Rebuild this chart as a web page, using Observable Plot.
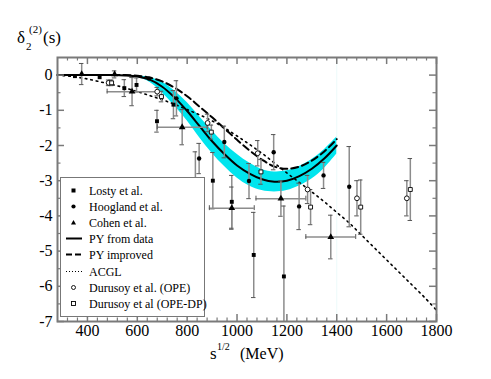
<!DOCTYPE html>
<html><head><meta charset="utf-8">
<script src="https://cdn.jsdelivr.net/npm/d3@7"></script>
<script src="https://cdn.jsdelivr.net/npm/@observablehq/plot@0.6"></script>
<style>
body{margin:0;background:#fff;}
#wrap{position:relative;width:491px;height:379px;font-family:'Liberation Serif','Times New Roman',serif;color:#000;}
.t{position:absolute;line-height:1;white-space:nowrap;}
#legend{position:absolute;left:60px;top:177px;width:143px;height:138px;border:1px solid #777;background:#fff;}
#legend .row{position:absolute;left:0;width:143px;height:16px;}
#legend svg{position:absolute;left:4px;top:0;}
#legend span{position:absolute;left:28px;top:2px;font-size:12px;line-height:1;white-space:nowrap;}
</style></head><body><div id="wrap"></div>
<script>
// ---- curves ----
const curveX = [280, 500, 550, 600, 650, 700, 750, 800, 850, 900, 950, 1000, 1050, 1100, 1150, 1200, 1250, 1300, 1350, 1400];
const pyFromData = [0, 0, -0.01, -0.04, -0.13, -0.33, -0.64, -1.02, -1.45, -1.88, -2.25, -2.57, -2.8, -2.96, -3.03, -3.0, -2.87, -2.66, -2.37, -2.0];
const pyImproved = [0, 0, 0, -0.02, -0.07, -0.18, -0.36, -0.6, -0.9, -1.2, -1.52, -1.84, -2.14, -2.4, -2.6, -2.66, -2.6, -2.43, -2.17, -1.82];
const bandX = [550, 600, 650, 700, 750, 800, 850, 900, 950, 1000, 1050, 1100, 1150, 1200, 1250, 1300, 1350, 1400];
const bandUpper = [-0.01, -0.02, -0.07, -0.2, -0.45, -0.78, -1.18, -1.58, -1.95, -2.25, -2.5, -2.68, -2.75, -2.72, -2.6, -2.4, -2.12, -1.76];
const bandLower = [-0.01, -0.07, -0.2, -0.5, -0.88, -1.3, -1.78, -2.22, -2.6, -2.92, -3.15, -3.28, -3.32, -3.28, -3.15, -2.95, -2.65, -2.24];
const bandEnd = [1400];
const acglX = [280, 350, 400, 450, 500, 550, 600, 650, 700, 750, 800, 850, 900, 950, 1000, 1050, 1100, 1150, 1200, 1250, 1300, 1350, 1400, 1450, 1500, 1550, 1600, 1650, 1700, 1750, 1800];
const acglY = [0, -0.05, -0.11, -0.19, -0.27, -0.36, -0.47, -0.58, -0.7, -0.83, -0.98, -1.13, -1.3, -1.5, -1.73, -1.97, -2.22, -2.5, -2.78, -3.05, -3.32, -3.6, -3.9, -4.2, -4.55, -4.9, -5.25, -5.6, -5.95, -6.3, -6.68];

// ---- data points ----
const lostyX = [350, 449, 548, 597, 679, 745, 833, 903, 979, 1067, 1188];
const lostyY = [-0.03, -0.06, -0.37, -0.28, -1.31, -0.84, -3.3, -3.0, -3.6, -5.11, -5.72];
const lostyErr = [0, 0, 0.24, 0.2, 0.31, 0.4, 1.12, 0.8, 0.75, 1.21, 2.0];

const hooglandX = [647, 757, 848, 949, 1048, 1147, 1249, 1347, 1450];
const hooglandY = [-0.1, -0.66, -2.37, -1.9, -3.01, -2.19, -3.73, -2.85, -3.17];
const hooglandErr = [0, 0.5, 0.43, 0.45, 0.5, 0.5, 0.66, 0.37, 1.14];

const cohenX = [377, 509, 579, 780, 979, 1176, 1376];
const cohenY = [0.03, 0.02, -0.47, -1.48, -3.78, -3.51, -4.6];
const cohenErr = [0.3, 0.1, 0.4, 0.5, 0.6, 0.5, 0.62];
const cohenXErr = [0, 0, 100, 100, 90, 100, 100];

const opeX = [485, 680, 882, 1083, 1283, 1481, 1681];
const opeY = [-0.22, -0.47, -1.36, -2.22, -3.25, -3.5, -3.5];
const opeErr = [0.08, 0.12, 0.25, 0.36, 0.4, 0.5, 0.5];

const opeDpX = [497, 697, 897, 1096, 1295, 1496, 1695];
const opeDpY = [-0.22, -0.61, -1.62, -2.75, -3.75, -3.75, -3.25];
const opeDpErr = [0.08, 0.15, 0.2, 0.35, 0.5, 0.77, 0.88];

// ---- ticks / labels ----
const xTicks = [400, 600, 800, 1000, 1200, 1400, 1600, 1800];
const yTicks = [0, -1, -2, -3, -4, -5, -6, -7];
const legendLabels = ["Losty et al.", "Hoogland et al.", "Cohen et al.", "PY from data", "PY improved", "ACGL", "Durusoy et al. (OPE)", "Durusoy et al (OPE-DP)"];

// ---- build tables ----
const zip = (xs, ys, es, xes) => xs.map((x, i) => ({x, y: ys[i], e: es[i], xe: xes ? xes[i] : 0}));
const losty = zip(lostyX, lostyY, lostyErr);
const hoogland = zip(hooglandX, hooglandY, hooglandErr);
const cohen = zip(cohenX, cohenY, cohenErr, cohenXErr);
const ope = zip(opeX, opeY, opeErr);
const opeDp = zip(opeDpX, opeDpY, opeDpErr);
const allPts = [...losty, ...hoogland, ...cohen, ...ope, ...opeDp].filter(d => d.e > 0);
const xBars = cohen.filter(d => d.xe > 0);
const curves = curveX.map((x, i) => ({x, a: pyFromData[i], b: pyImproved[i]}));
const band = bandX.map((x, i) => ({x, hi: bandUpper[i], lo: bandLower[i]}));
const acgl = acglX.map((x, i) => ({x, y: acglY[i]}));

const xMinor = d3.range(320, 1800, 40).filter(v => v % 200 !== 0);
const yMinor = d3.range(-6.5, 0.1, 1);

const axisCol = "#7a7a7a";
const barCol = "#8c8c8c";

const chart = Plot.plot({
  width: 491, height: 379,
  marginLeft: 57, marginRight: 55, marginTop: 57, marginBottom: 58,
  x: {domain: [280, 1800]},
  y: {domain: [-7, 0.5]},
  style: {fontFamily: "'Liberation Serif','Times New Roman',serif", fontSize: "16px", background: "white", color: "black"},
  marks: [
    Plot.ruleX(bandEnd, {stroke: "#ecfafa", strokeWidth: 1}),
    Plot.areaY(band, {x: "x", y1: "lo", y2: "hi", fill: "#00e5ee", curve: "catmull-rom"}),
    Plot.line(curves, {x: "x", y: "a", stroke: "black", strokeWidth: 2, curve: "catmull-rom"}),
    Plot.line(curves, {x: "x", y: "b", stroke: "black", strokeWidth: 2, strokeDasharray: "7,4", curve: "catmull-rom"}),
    Plot.line(acgl, {x: "x", y: "y", stroke: "black", strokeWidth: 1.6, strokeDasharray: "1.6,4", curve: "catmull-rom"}),
    // vertical error bars
    Plot.ruleX(allPts, {x: "x", y1: d => d.y - d.e, y2: d => d.y + d.e, stroke: barCol, strokeWidth: 1.5, clip: true}),
    Plot.ruleY(allPts, {y: d => d.y - d.e, x1: d => d.x - 9, x2: d => d.x + 9, stroke: "#555", strokeWidth: 1, clip: true}),
    Plot.ruleY(allPts, {y: d => d.y + d.e, x1: d => d.x - 9, x2: d => d.x + 9, stroke: "#555", strokeWidth: 1, clip: true}),
    // horizontal error bars
    Plot.ruleY(xBars, {y: "y", x1: d => d.x - d.xe, x2: d => d.x + d.xe, stroke: barCol, strokeWidth: 1.5}),
    Plot.ruleX(xBars, {x: d => d.x - d.xe, y1: d => d.y - 0.07, y2: d => d.y + 0.07, stroke: "#555", strokeWidth: 1}),
    Plot.ruleX(xBars, {x: d => d.x + d.xe, y1: d => d.y - 0.07, y2: d => d.y + 0.07, stroke: "#555", strokeWidth: 1}),
    // markers
    Plot.dot(losty, {x: "x", y: "y", symbol: "square", fill: "black", r: 2.2}),
    Plot.dot(hoogland, {x: "x", y: "y", symbol: "circle", fill: "black", r: 2.2}),
    Plot.dot(cohen, {x: "x", y: "y", symbol: "triangle", fill: "black", r: 2.5}),
    Plot.dot(ope, {x: "x", y: "y", symbol: "circle", fill: "white", stroke: "black", strokeWidth: 0.9, r: 2.4}),
    Plot.dot(opeDp, {x: "x", y: "y", symbol: "square", fill: "white", stroke: "black", strokeWidth: 0.9, r: 2.2}),
    // frame & inward ticks
    Plot.frame({stroke: axisCol, strokeWidth: 2}),
    Plot.ruleX(xTicks, {y1: -7, y2: -6.8, stroke: axisCol, strokeWidth: 1.5}),
    Plot.ruleX(xTicks, {y1: 0.5, y2: 0.3, stroke: axisCol, strokeWidth: 1.5}),
    Plot.ruleX(xMinor, {y1: -7, y2: -6.9, stroke: axisCol, strokeWidth: 1.2}),
    Plot.ruleX(xMinor, {y1: 0.5, y2: 0.4, stroke: axisCol, strokeWidth: 1.2}),
    Plot.ruleY(yTicks, {x1: 280, x2: 308, stroke: axisCol, strokeWidth: 1.5}),
    Plot.ruleY(yTicks, {x1: 1800, x2: 1772, stroke: axisCol, strokeWidth: 1.5}),
    Plot.ruleY(yMinor, {x1: 280, x2: 294, stroke: axisCol, strokeWidth: 1.2}),
    Plot.ruleY(yMinor, {x1: 1800, x2: 1786, stroke: axisCol, strokeWidth: 1.2}),
    Plot.axisX({ticks: xTicks, tickSize: 0, tickPadding: 3, tickFormat: d => String(d), label: null}),
    Plot.axisY({ticks: yTicks, tickSize: 0, tickPadding: 5, tickFormat: d => String(d), label: null})
  ]
});

const wrap = document.getElementById("wrap");
wrap.appendChild(chart);

function addText(txt, left, baseline, fs, lh) {
  const s = document.createElement("div");
  s.className = "t";
  s.textContent = txt;
  s.style.left = left + "px";
  s.style.fontSize = fs + "px";
  if (lh) {
    s.style.lineHeight = lh;
    s.style.top = (baseline - (0.891 + (lh - 1.107) / 2) * fs) + "px";
  } else {
    s.style.top = (baseline - 0.8375 * fs) + "px";
  }
  wrap.appendChild(s);
}
// y label: δ_2^(2)(s)
addText("δ", 17, 43, 17);
addText("2", 26, 50, 11);
addText("(2)", 29, 33, 11);
addText("(s)", 43, 43, 17);
// x label: s^1/2 (MeV)
addText("s", 210, 359, 17);
addText("1/2", 217, 350, 10, 0.7);
addText("(MeV)", 240, 359, 16);

// legend
const leg = document.createElement("div");
leg.id = "legend";
wrap.appendChild(leg);
const icons = [
  '<rect x="6.5" y="5.5" width="4" height="4" fill="black"/>',
  '<circle cx="8.5" cy="7.5" r="2.1" fill="black"/>',
  '<path d="M8.5,5 L11,9.5 L6,9.5 Z" fill="black"/>',
  '<line x1="1" y1="7.5" x2="17" y2="7.5" stroke="black" stroke-width="2"/>',
  '<line x1="1" y1="7.5" x2="17" y2="7.5" stroke="black" stroke-width="2" stroke-dasharray="6,3"/>',
  '<line x1="1" y1="7.5" x2="17" y2="7.5" stroke="black" stroke-width="1" stroke-dasharray="1,2"/>',
  '<circle cx="8.5" cy="7.5" r="2" fill="white" stroke="black" stroke-width="0.9"/>',
  '<rect x="6.5" y="5.5" width="4" height="4" fill="white" stroke="black" stroke-width="0.9"/>'
];
legendLabels.forEach((lab, i) => {
  const row = document.createElement("div");
  row.className = "row";
  row.style.top = (4.5 + i * 16.2) + "px";
  row.innerHTML = '<svg width="20" height="15">' + icons[i] + '</svg>';
  const sp = document.createElement("span");
  sp.textContent = lab;
  row.appendChild(sp);
  leg.appendChild(row);
});
</script></body></html>
